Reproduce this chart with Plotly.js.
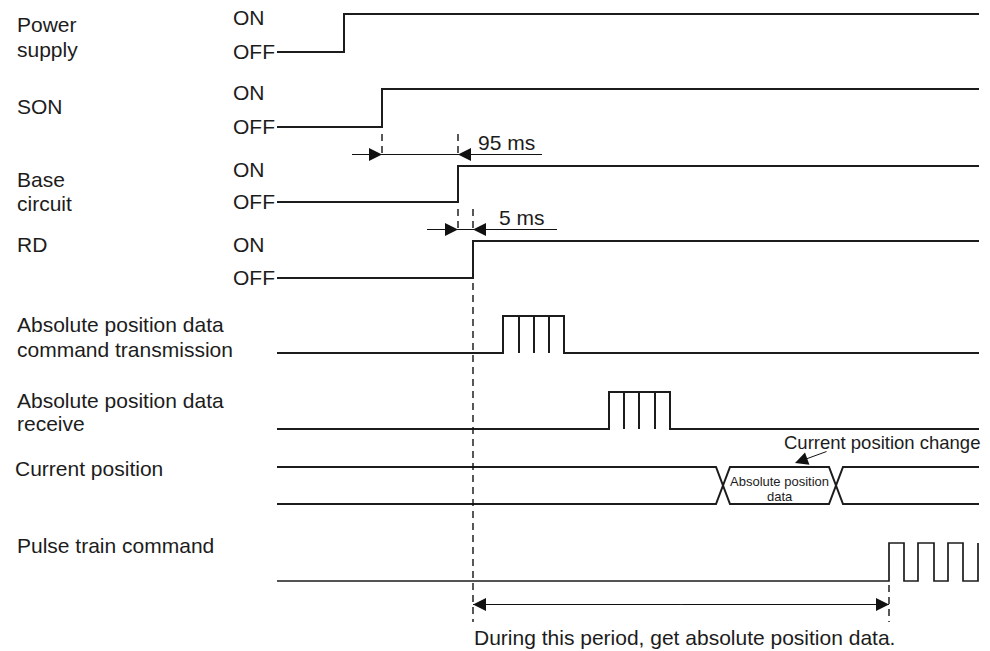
<!DOCTYPE html>
<html>
<head>
<meta charset="utf-8">
<script src="https://cdn.plot.ly/plotly-3.0.1.min.js"></script>
<style>html,body{margin:0;padding:0;background:#fff;}#chart{width:990px;height:651px;}</style>
</head>
<body>
<div id="chart"></div>
<script>
// ---------- DATA (time axis in diagram units) ----------
const signalLabels = ['Power', 'supply', 'SON', 'Base', 'circuit', 'RD'];
const stateLabels = ['ON', 'OFF'];
const busLabels = ['Absolute position data', 'command transmission', 'Absolute position data', 'receive', 'Current position', 'Pulse train command'];
const timeStart = 277;
const timeEnd = 979;
const onTimes = [344, 382, 458, 473];           // Power supply, SON, Base circuit, RD switch ON
const cmdEdges = [503, 519, 534, 549, 564];      // command transmission burst
const recvEdges = [609, 624, 639, 655, 670];     // receive burst
const posChangeTimes = [723, 836];               // current position changes
const pulseEdges = [889, 904, 918, 934, 948, 963, 978];
const delayLabels = ['95 ms', '5 ms'];
const posDataLabel = ['Absolute position', 'data'];
const posChangeLabel = 'Current position change';
const periodLabel = 'During this period, get absolute position data.';

// ---------- LAYOUT GEOMETRY (pixel rows) ----------
const binRows = [{hi: 14, lo: 52}, {hi: 89, lo: 127}, {hi: 166, lo: 202}, {hi: 241, lo: 278}];
const cmdRow = {hi: 316, lo: 353};
const recvRow = {hi: 392, lo: 429};
const posRow = {hi: 467, lo: 504};
const pulseRow = {hi: 543, lo: 581};
const crossHalf = 7;
const INK = '#1c1c1c';
const FONT = 'Liberation Sans, Arial, sans-serif';
const SIG_W = 2;

const traces = [];
function line(x, y, w, c) {
  traces.push({type: 'scatter', mode: 'lines', x: x, y: y, hoverinfo: 'skip',
    line: {color: c || INK, width: w || SIG_W}, showlegend: false});
}

// binary ON/OFF signals
binRows.forEach((r, i) => {
  const t = onTimes[i];
  line([timeStart, t, t, timeEnd], [r.lo, r.lo, r.hi, r.hi]);
});

// burst rows
function burst(edges, r) {
  const a = edges[0], b = edges[edges.length - 1];
  line([timeStart, a, a, b, b, timeEnd], [r.lo, r.lo, r.hi, r.hi, r.lo, r.lo]);
  const xs = [], ys = [];
  edges.slice(1, -1).forEach(e => { xs.push(e, e, null); ys.push(r.hi, r.lo, null); });
  line(xs, ys);
}
burst(cmdEdges, cmdRow);
burst(recvEdges, recvRow);

// current position (bus with crossings)
(function () {
  const c1 = posChangeTimes[0], c2 = posChangeTimes[1], h = crossHalf, r = posRow;
  line([timeStart, c1 - h, c1 + h, c2 - h, c2 + h, timeEnd], [r.hi, r.hi, r.lo, r.lo, r.hi, r.hi]);
  line([timeStart, c1 - h, c1 + h, c2 - h, c2 + h, timeEnd], [r.lo, r.lo, r.hi, r.hi, r.lo, r.lo]);
})();

// pulse train
(function () {
  const xs = [timeStart], ys = [pulseRow.lo];
  let level = pulseRow.lo;
  pulseEdges.forEach(e => {
    xs.push(e); ys.push(level);
    level = (level === pulseRow.lo) ? pulseRow.hi : pulseRow.lo;
    xs.push(e); ys.push(level);
  });
  line(xs, ys, 1.7);
})();

// dimension lines
const dim95 = {y: 154.5, x0: 352, x1: 542};
const dim5 = {y: 229.5, x0: 427, x1: 557};
const dimPeriod = {y: 604.5};
line([dim95.x0, dim95.x1], [dim95.y, dim95.y], 1, '#111');
line([dim5.x0, dim5.x1], [dim5.y, dim5.y], 1, '#111');
line([onTimes[3], pulseEdges[0]], [dimPeriod.y, dimPeriod.y], 1, '#222');

// dashed guide lines
const dash = {color: '#111', width: 1.4, dash: '7px,5px'};
const shapes = [
  {type: 'line', xref: 'x', yref: 'y', x0: onTimes[1], x1: onTimes[1], y0: 134, y1: 157, line: dash},
  {type: 'line', xref: 'x', yref: 'y', x0: onTimes[2], x1: onTimes[2], y0: 134, y1: 157, line: dash},
  {type: 'line', xref: 'x', yref: 'y', x0: onTimes[2], x1: onTimes[2], y0: 209, y1: 232, line: dash},
  {type: 'line', xref: 'x', yref: 'y', x0: onTimes[3], x1: onTimes[3], y0: 209, y1: 232, line: dash},
  {type: 'line', xref: 'x', yref: 'y', x0: onTimes[3], x1: onTimes[3], y0: 283, y1: 622, line: dash},
  {type: 'line', xref: 'x', yref: 'y', x0: pulseEdges[0], x1: pulseEdges[0], y0: 585, y1: 622, line: dash}
];

// annotations
const ann = [];
function txt(t, x, y, size, anchor) {
  ann.push({text: t, x: x, y: y, xref: 'x', yref: 'y', showarrow: false,
    xanchor: anchor || 'left', yanchor: 'middle', font: {family: FONT, size: size || 21, color: INK}});
}
function arrowTo(tx, ty, fx, fy) {
  ann.push({text: '', x: tx, y: ty, ax: fx, ay: fy, xref: 'x', yref: 'y', axref: 'x', ayref: 'y',
    showarrow: true, arrowhead: 2, arrowsize: 2.6, arrowwidth: 1, arrowcolor: '#111', standoff: 0});
}
// left signal names
const sigY = [24, 49, 106, 179, 203, 244];
signalLabels.forEach((s, i) => txt(s, 15, sigY[i]));
// ON / OFF
binRows.forEach(r => { txt(stateLabels[0], 231, r.hi + 3); txt(stateLabels[1], 231, r.lo - 1); });
// bus labels
const busX = [15, 15, 15, 15, 13, 15];
const busY = [324, 349, 400, 423, 468, 545];
busLabels.forEach((s, i) => txt(s, busX[i], busY[i]));
// delay labels
txt(delayLabels[0], 476, 142);
txt(delayLabels[1], 497, 217);
// arrows
arrowTo(onTimes[1], dim95.y, dim95.x0, dim95.y);
arrowTo(onTimes[2], dim95.y, dim95.x1, dim95.y);
arrowTo(onTimes[2], dim5.y, dim5.x0, dim5.y);
arrowTo(onTimes[3], dim5.y, dim5.x1, dim5.y);
const mid = (onTimes[3] + pulseEdges[0]) / 2;
arrowTo(onTimes[3], dimPeriod.y, mid, dimPeriod.y);
arrowTo(pulseEdges[0], dimPeriod.y, mid, dimPeriod.y);
// current position change
txt(posChangeLabel, 782, 442, 18.5);
arrowTo(795, 463, 828, 451);
const pc = (posChangeTimes[0] + posChangeTimes[1]) / 2;
txt(posDataLabel[0], pc, 481, 13, 'center');
txt(posDataLabel[1], pc, 496, 13, 'center');
// period text
txt(periodLabel, 472, 637);

const layout = {
  width: 990, height: 651,
  margin: {l: 0, r: 0, t: 0, b: 0, pad: 0},
  paper_bgcolor: '#ffffff', plot_bgcolor: '#ffffff',
  xaxis: {range: [0, 990], visible: false, fixedrange: true},
  yaxis: {range: [651, 0], visible: false, fixedrange: true},
  showlegend: false,
  shapes: shapes,
  annotations: ann
};
Plotly.newPlot('chart', traces, layout, {displayModeBar: false, staticPlot: true});
</script>
</body>
</html>
